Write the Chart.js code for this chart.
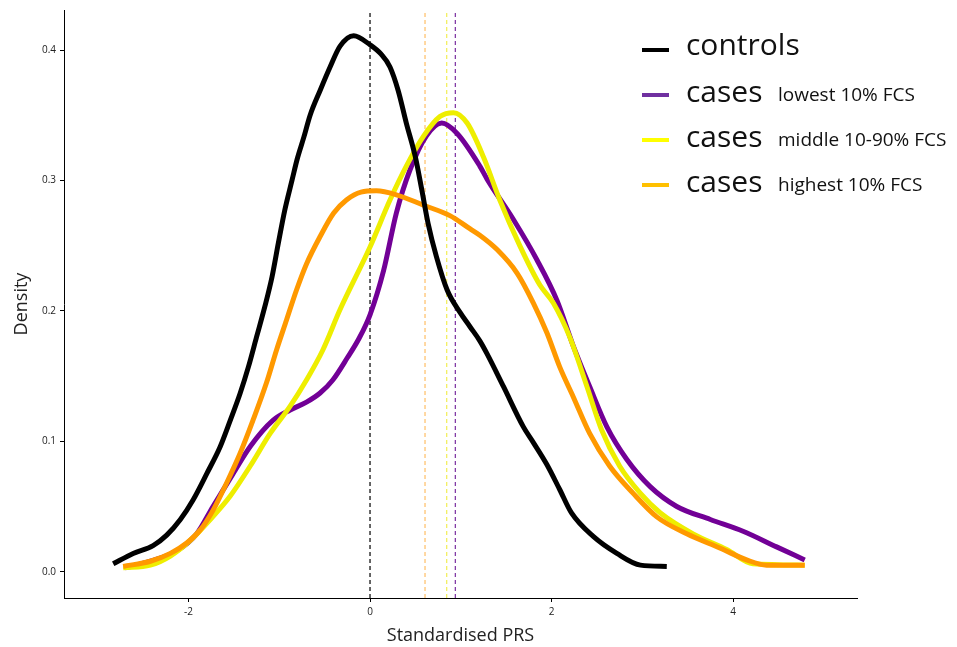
<!DOCTYPE html>
<html>
<head>
<meta charset="utf-8">
<script src="https://cdn.jsdelivr.net/npm/chart.js@4.4.1/dist/chart.umd.min.js"></script>
<style>
  html, body { margin: 0; padding: 0; background: #fff; }
  #wrap { width: 957px; height: 647px; }
</style>
</head>
<body>
<div id="wrap"><canvas id="prsChart" width="957" height="647"></canvas></div>
<script>
// density curves, [PRS, density]
const controls = [
  [-2.83, 0.006], [-2.61, 0.014], [-2.39, 0.020], [-2.24, 0.028], [-2.09, 0.040],
  [-1.95, 0.055], [-1.80, 0.075], [-1.65, 0.096], [-1.54, 0.116], [-1.43, 0.137],
  [-1.34, 0.157], [-1.25, 0.180], [-1.16, 0.203], [-1.08, 0.226], [-1.01, 0.252],
  [-0.94, 0.277], [-0.86, 0.300], [-0.80, 0.317], [-0.73, 0.333], [-0.66, 0.350],
  [-0.55, 0.369], [-0.44, 0.387], [-0.33, 0.403], [-0.18, 0.411], [0.00, 0.404],
  [0.12, 0.397], [0.22, 0.387], [0.31, 0.369], [0.40, 0.344], [0.50, 0.318],
  [0.57, 0.293], [0.64, 0.267], [0.73, 0.242], [0.85, 0.216], [0.99, 0.199],
  [1.10, 0.188], [1.21, 0.177], [1.29, 0.167], [1.47, 0.142], [1.69, 0.111],
  [1.80, 0.099], [1.95, 0.082], [2.09, 0.063], [2.22, 0.045], [2.46, 0.027],
  [2.72, 0.014], [2.98, 0.005], [3.27, 0.004]
];
const casesLow = [
  [-2.70, 0.003], [-2.42, 0.008], [-2.13, 0.016], [-1.91, 0.029], [-1.73, 0.050],
  [-1.51, 0.075], [-1.32, 0.096], [-1.07, 0.116], [-0.88, 0.124], [-0.70, 0.130],
  [-0.55, 0.137], [-0.41, 0.147], [-0.25, 0.164], [-0.12, 0.179], [0.00, 0.197],
  [0.15, 0.231], [0.29, 0.275], [0.44, 0.308], [0.62, 0.334], [0.79, 0.344],
  [0.96, 0.336], [1.21, 0.311], [1.29, 0.301], [1.58, 0.270], [1.84, 0.239],
  [2.06, 0.208], [2.24, 0.173], [2.42, 0.142], [2.61, 0.111], [2.83, 0.086],
  [3.09, 0.065], [3.38, 0.050], [3.75, 0.040], [4.11, 0.031], [4.48, 0.019],
  [4.79, 0.009]
];
const casesMid = [
  [-2.72, 0.003], [-2.42, 0.005], [-2.20, 0.012], [-1.98, 0.024], [-1.76, 0.040],
  [-1.54, 0.058], [-1.32, 0.081], [-1.10, 0.106], [-0.88, 0.127], [-0.70, 0.147],
  [-0.52, 0.170], [-0.33, 0.201], [0.00, 0.249], [0.22, 0.285], [0.40, 0.311],
  [0.59, 0.334], [0.77, 0.349], [0.92, 0.352], [1.07, 0.344], [1.25, 0.318],
  [1.43, 0.285], [1.65, 0.250], [1.87, 0.220], [2.02, 0.206], [2.20, 0.180],
  [2.39, 0.142], [2.55, 0.109], [2.75, 0.081], [2.98, 0.060], [3.20, 0.045],
  [3.56, 0.029], [3.93, 0.017], [4.22, 0.006], [4.79, 0.005]
];
const casesHigh = [
  [-2.72, 0.004], [-2.42, 0.008], [-2.20, 0.014], [-2.02, 0.022], [-1.87, 0.032],
  [-1.73, 0.047], [-1.58, 0.068], [-1.43, 0.091], [-1.29, 0.116], [-1.14, 0.145],
  [-1.03, 0.170], [-0.92, 0.193], [-0.81, 0.216], [-0.70, 0.236], [-0.55, 0.257],
  [-0.40, 0.275], [-0.26, 0.285], [-0.10, 0.291], [0.07, 0.292], [0.29, 0.289],
  [0.59, 0.281], [0.88, 0.273], [1.10, 0.263], [1.21, 0.258], [1.40, 0.247],
  [1.62, 0.229], [1.80, 0.206], [1.95, 0.183], [2.09, 0.157], [2.24, 0.134],
  [2.42, 0.106], [2.64, 0.081], [2.90, 0.060], [3.16, 0.042], [3.49, 0.029],
  [3.86, 0.018], [4.15, 0.009], [4.37, 0.005], [4.79, 0.005]
];

// group means (dashed verticals)
const meanValues = [0, 0.606, 0.845, 0.94];
const meanColours = ['#000000', '#ffbf66', '#f2ee55', '#7a2ea0'];

const curveColours = ['#000000', '#720096', '#eeee00', '#ff9900'];
const legendMain = ['controls', 'cases', 'cases', 'cases'];
const legendSub = ['', 'lowest 10% FCS', 'middle 10-90% FCS', 'highest 10% FCS'];
const legendSwatch = ['#000000', '#7030a0', '#ffff00', '#ffc000'];

const xTicks = [-2, 0, 2, 4];
const yTicks = [0, 0.1, 0.2, 0.3, 0.4];
const xRange = [-3.372, 5.366];
const yRange = [-0.0202, 0.4307];

function toPoints(arr) {
  return arr.map(p => ({ x: p[0], y: p[1] }));
}

const curveSets = [controls, casesLow, casesMid, casesHigh];
const drawOrder = [1, 4, 3, 2]; // black on top, then orange, yellow, purple

const datasets = curveSets.map((pts, i) => ({
  label: legendMain[i] + (legendSub[i] ? ' ' + legendSub[i] : ''),
  data: toPoints(pts),
  borderColor: curveColours[i],
  borderWidth: 5,
  pointRadius: 0,
  cubicInterpolationMode: 'monotone',
  fill: false,
  order: drawOrder[i]
}));

meanValues.forEach((m, i) => {
  datasets.push({
    label: 'mean ' + i,
    data: [{ x: m, y: yRange[0] }, { x: m, y: 0.4284 }],
    borderColor: meanColours[i],
    borderWidth: 1.2,
    borderDash: [4, 3],
    pointRadius: 0,
    fill: false,
    order: 10 + i
  });
});

// legend with mixed type sizes, drawn on top of the canvas
const fcsLegend = {
  id: 'fcsLegend',
  afterDraw(chart) {
    const ctx = chart.ctx;
    ctx.save();
    const rowY = [50, 95, 140, 185];
    for (let i = 0; i < legendMain.length; i++) {
      ctx.fillStyle = legendSwatch[i];
      ctx.fillRect(642, rowY[i] - 2, 27, 4);
      ctx.fillStyle = '#111';
      ctx.textBaseline = 'alphabetic';
      if (i === 0) {
        ctx.font = '30px "Open Sans"';
        ctx.fillText(legendMain[i], 686, rowY[i] + 5);
      } else {
        ctx.font = '30px "Open Sans"';
        ctx.fillText(legendMain[i], 686, rowY[i] + 7);
        ctx.font = '19px "Open Sans"';
        ctx.fillText(legendSub[i], 778, rowY[i] + 6);
      }
    }
    ctx.restore();
  }
};

const ctx = document.getElementById('prsChart').getContext('2d');
new Chart(ctx, {
  type: 'line',
  data: { datasets: datasets },
  options: {
    responsive: false,
    animation: false,
    layout: { padding: { top: 10, right: 100, left: 0, bottom: 0 } },
    plugins: { legend: { display: false }, tooltip: { enabled: false } },
    scales: {
      x: {
        type: 'linear',
        min: xRange[0],
        max: xRange[1],
        afterFit: s => { s.height = 49; },
        afterBuildTicks: s => { s.ticks = xTicks.map(v => ({ value: v })); },
        grid: { drawOnChartArea: false, drawTicks: true, tickLength: 4, color: '#000' },
        border: { display: true, color: '#000', width: 1 },
        ticks: { color: '#222', font: { family: 'Open Sans', size: 10 }, padding: 4 },
        title: { display: true, text: 'Standardised PRS', color: '#222', font: { family: 'Open Sans', size: 18 }, padding: { top: 0, bottom: 0 } }
      },
      y: {
        type: 'linear',
        min: yRange[0],
        max: yRange[1],
        afterFit: s => { s.width = 64; },
        afterBuildTicks: s => { s.ticks = yTicks.map(v => ({ value: v })); },
        grid: { drawOnChartArea: false, drawTicks: true, tickLength: 4, color: '#000' },
        border: { display: true, color: '#000', width: 1 },
        ticks: { color: '#222', font: { family: 'Open Sans', size: 10 }, padding: 4, callback: v => v.toFixed(1) },
        title: { display: true, text: 'Density', color: '#222', font: { family: 'Open Sans', size: 18 }, padding: { top: 11, bottom: 0 } }
      }
    }
  },
  plugins: [fcsLegend]
});
</script>
</body>
</html>
